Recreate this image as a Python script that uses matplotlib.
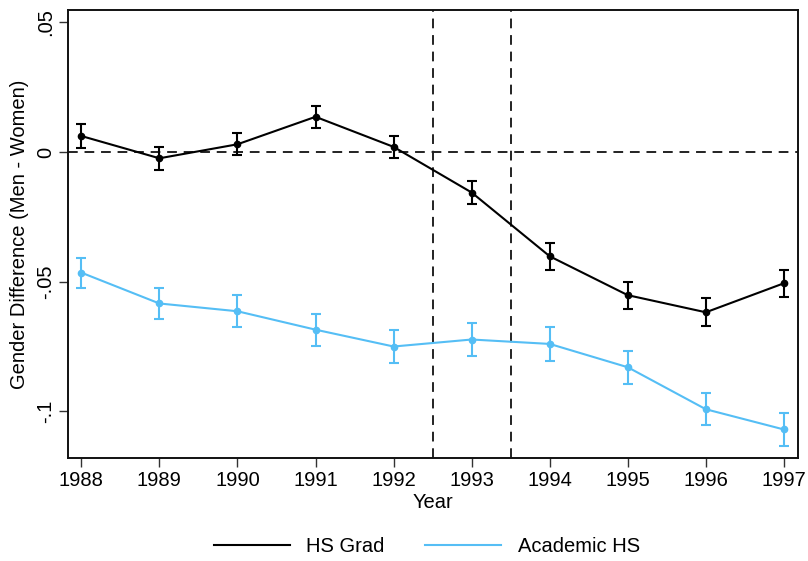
import matplotlib
matplotlib.use("Agg")
import matplotlib.pyplot as plt
from matplotlib.lines import Line2D

plt.rcParams['font.family'] = ['Liberation Sans', 'DejaVu Sans']

years = [1988, 1989, 1990, 1991, 1992, 1993, 1994, 1995, 1996, 1997]

hs_grad = [0.0062, -0.0024, 0.0030, 0.0136, 0.0020, -0.0156, -0.0402, -0.0552, -0.0618, -0.0506]
hs_grad_err = [0.0048, 0.0045, 0.0043, 0.0042, 0.0043, 0.0043, 0.0052, 0.0052, 0.0054, 0.0052]

academic_hs = [-0.0465, -0.0584, -0.0614, -0.0685, -0.0750, -0.0723, -0.0740, -0.0830, -0.0992, -0.1070]
academic_err = [0.0058, 0.0059, 0.0061, 0.0062, 0.0062, 0.0064, 0.0066, 0.0064, 0.0062, 0.0064]

yticks = [-0.1, -0.05, 0, 0.05]
ytick_labels = ['-.1', '-.05', '0', '.05']
policy_window = [1992.5, 1993.5]
series_labels = ['HS Grad', 'Academic HS']

black = '#000000'
blue = '#55BEF5'
fs = 14.5

fig = plt.figure(figsize=(8.08, 5.61), dpi=100)
ax = fig.add_axes([0.0842, 0.1836, 0.9034, 0.7986])

ax.errorbar(years, hs_grad, yerr=hs_grad_err, color=black, lw=1.5, marker='o',
            ms=4.5, capsize=3.4, elinewidth=1.5, capthick=1.5, zorder=3)
ax.errorbar(years, academic_hs, yerr=academic_err, color=blue, lw=1.5, marker='o',
            ms=4.5, capsize=3.4, elinewidth=1.5, capthick=1.5, zorder=3)

ax.axhline(0, color='#222222', lw=1.4, ls=(0, (5, 3.5)), zorder=2)
for xv in policy_window:
    ax.axvline(xv, color='#222222', lw=1.4, ls=(0, (5, 3.5)), zorder=2)

ax.set_xlim(1987.83, 1997.18)
ax.set_ylim(-0.118, 0.0548)
ax.set_xticks(years)
ax.set_xticklabels([str(y) for y in years], fontsize=fs)
ax.set_yticks(yticks)
ax.set_yticklabels(ytick_labels, fontsize=fs, rotation=90, va='center')
ax.tick_params(axis='both', direction='out', length=6.5, width=1.0, color='#333333')
ax.tick_params(axis='y', pad=3)
ax.tick_params(axis='x', pad=3)

for sp in ax.spines.values():
    sp.set_linewidth(1.4)
    sp.set_color('#111111')

ax.set_xlabel('Year', fontsize=fs, labelpad=2)
ax.set_ylabel('Gender Difference (Men - Women)', fontsize=fs, labelpad=5)

proxy = [Line2D([], [], color=black, lw=1.5), Line2D([], [], color=blue, lw=1.5)]
fig.legend(proxy, series_labels, loc='center', bbox_to_anchor=(0.528, 0.026), ncol=2,
           frameon=False, fontsize=fs, handlelength=3.8, handletextpad=0.8,
           columnspacing=2.0)

fig.savefig('out.png', dpi=100)
